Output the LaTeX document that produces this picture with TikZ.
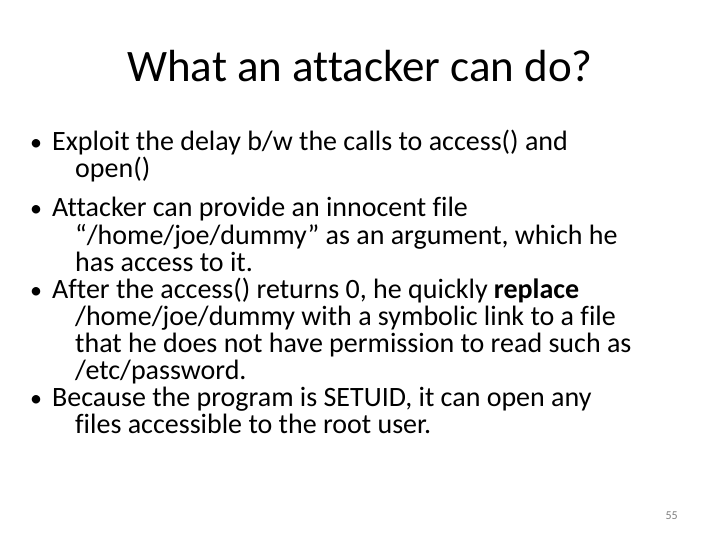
\documentclass[tikz,border=0pt]{standalone}
\usepackage{fontspec}
\setmainfont{Carlito}[Ligatures={NoCommon}]
\begin{document}
\begin{tikzpicture}[x=1pt,y=-1pt,
  body/.style={anchor=base west,inner sep=0pt,font=\fontsize{28}{30}\selectfont},
  bul/.style={anchor=base west,inner sep=0pt,font=\fontsize{24}{30}\selectfont}]
\useasboundingbox[fill=white] (0,0) rectangle (720,540);
\node[anchor=base,inner sep=0pt,font=\fontsize{45}{50}\selectfont] (title) at (360,82) {What an attacker can do?};
\node[bul] (b1) at (30,151) {•};
\node[body] (l1) at (52,151) {Exploit the delay b/w the calls to access() and};
\node[body] (l2) at (75,178) {open()};
\node[bul] (b2) at (30,217) {•};
\node[body] (l3) at (52,217) {Attacker can provide an innocent file};
\node[body] (l4) at (75,244) {“/home/joe/dummy” as an argument, which he};
\node[body] (l5) at (75,271) {has access to it.};
\node[bul] (b3) at (30,298) {•};
\node[body] (l6) at (52,298) {After the access() returns 0, he quickly \textbf{replace}};
\node[body] (l7) at (75,325) {/home/joe/dummy with a symbolic link to a file};
\node[body] (l8) at (75,352) {that he does not have permission to read such as};
\node[body] (l9) at (75,379) {/etc/password.};
\node[bul] (b4) at (30,406) {•};
\node[body] (l10) at (52,406) {Because the program is SETUID, it can open any};
\node[body] (l11) at (75,433) {files accessible to the root user.};
\node[anchor=base east,inner sep=0pt,font=\fontsize{12}{14}\selectfont,text=gray] (pg) at (678,519) {55};
\end{tikzpicture}
\end{document}
